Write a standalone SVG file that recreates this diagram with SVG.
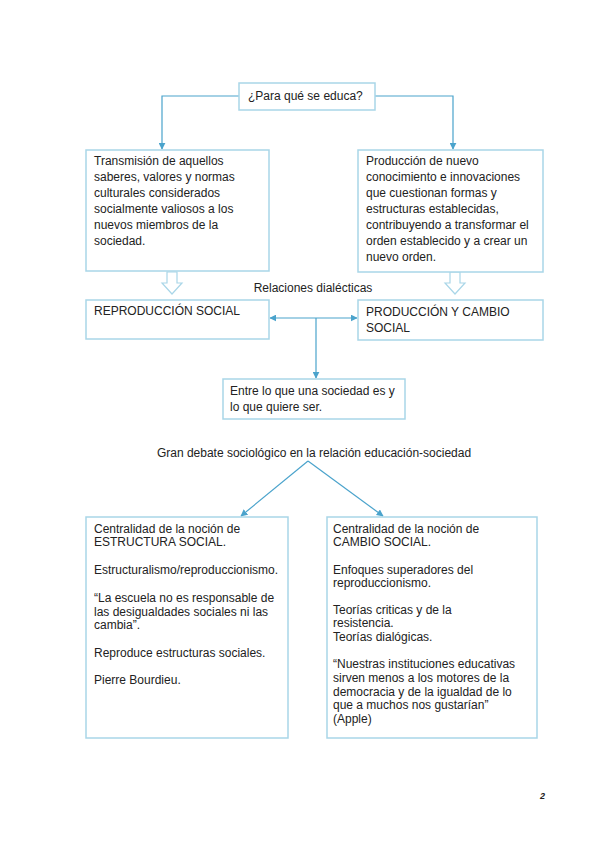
<svg xmlns="http://www.w3.org/2000/svg" width="599" height="848" viewBox="0 0 599 848">
<style>
text{font-family:"Liberation Sans",Arial,sans-serif;font-size:12px;fill:#222}
.box{fill:#fff;stroke:#a9d6e8;stroke-width:1.5}
.con{fill:none;stroke:#4aa3cc;stroke-width:1.2}
.hol{fill:#fff;stroke:#a9d6e8;stroke-width:1.2}
</style>
<defs>
<marker id="ah" viewBox="0 0 10 10" refX="9" refY="5" markerWidth="7" markerHeight="7" orient="auto-start-reverse" markerUnits="userSpaceOnUse">
<path d="M0,0 L10,5 L0,10 z" fill="#4aa3cc"/>
</marker>
</defs>
<rect width="599" height="848" fill="#fff"/>
<g id="connectors">
<polyline class="con" points="239,96 162,96 162,149" marker-end="url(#ah)"/>
<polyline class="con" points="375,96 453,96 453,149" marker-end="url(#ah)"/>
<line class="con" x1="270" y1="318" x2="357" y2="318" marker-start="url(#ah)" marker-end="url(#ah)"/>
<line class="con" x1="316" y1="318" x2="316" y2="378" marker-end="url(#ah)"/>
<line class="con" x1="308" y1="461" x2="241" y2="516" marker-end="url(#ah)"/>
<line class="con" x1="308" y1="461" x2="383" y2="516" marker-end="url(#ah)"/>
<polygon class="hol" points="167,272 177,272 177,283 182,283 172,294 162,283 167,283"/>
<polygon class="hol" points="450,272 460,272 460,283 465,283 455,294 445,283 450,283"/>
</g>
<g id="n-question">
<rect class="box" x="239" y="83" width="136" height="27"/>
<text x="248" y="100">¿Para qué se educa?</text>
</g>
<g id="n-transmision">
<rect class="box" x="86" y="150" width="183" height="121"/>
<text x="94" y="165">Transmisión de aquellos</text>
<text x="94" y="181">saberes, valores y normas</text>
<text x="94" y="197">culturales considerados</text>
<text x="94" y="213">socialmente valiosos a los</text>
<text x="94" y="229">nuevos miembros de la</text>
<text x="94" y="245">sociedad.</text>
</g>
<g id="n-produccion">
<rect class="box" x="358" y="150" width="185" height="122"/>
<text x="366" y="165">Producción de nuevo</text>
<text x="366" y="181">conocimiento e innovaciones</text>
<text x="366" y="197">que cuestionan formas y</text>
<text x="366" y="213">estructuras establecidas,</text>
<text x="366" y="229">contribuyendo a transformar el</text>
<text x="366" y="245">orden establecido y a crear un</text>
<text x="366" y="261">nuevo orden.</text>
</g>
<g id="n-relaciones">
<text x="313" y="292" text-anchor="middle">Relaciones dialécticas</text>
</g>
<g id="n-reproduccion">
<rect class="box" x="86" y="300" width="183" height="39"/>
<text x="94" y="315">REPRODUCCIÓN SOCIAL</text>
</g>
<g id="n-cambio">
<rect class="box" x="358" y="300" width="185" height="40"/>
<text x="366" y="316">PRODUCCIÓN Y CAMBIO</text>
<text x="366" y="332">SOCIAL</text>
</g>
<g id="n-entre">
<rect class="box" x="223" y="379" width="182" height="40"/>
<text x="230" y="395">Entre lo que una sociedad es y</text>
<text x="230" y="411">lo que quiere ser.</text>
</g>
<g id="n-debate">
<text x="314" y="457" text-anchor="middle">Gran debate sociológico en la relación educación-sociedad</text>
</g>
<g id="n-estructura">
<rect class="box" x="86" y="517" width="202" height="221"/>
<text x="94" y="533">Centralidad de la noción de</text>
<text x="94" y="546">ESTRUCTURA SOCIAL.</text>
<text x="94" y="574">Estructuralismo/reproduccionismo.</text>
<text x="94" y="602">“La escuela no es responsable de</text>
<text x="94" y="616">las desigualdades sociales ni las</text>
<text x="94" y="629">cambia”.</text>
<text x="94" y="657">Reproduce estructuras sociales.</text>
<text x="94" y="684">Pierre Bourdieu.</text>
</g>
<g id="n-cambiosocial">
<rect class="box" x="327" y="517" width="210" height="221"/>
<text x="333" y="533">Centralidad de la noción de</text>
<text x="333" y="546">CAMBIO SOCIAL.</text>
<text x="333" y="574">Enfoques superadores del</text>
<text x="333" y="587">reproduccionismo.</text>
<text x="333" y="614">Teorías criticas y de la</text>
<text x="333" y="627">resistencia.</text>
<text x="333" y="641">Teorías dialógicas.</text>
<text x="333" y="668">“Nuestras instituciones educativas</text>
<text x="333" y="682">sirven menos a los motores de la</text>
<text x="333" y="696">democracia y de la igualdad de lo</text>
<text x="333" y="709">que a muchos nos gustarían”</text>
<text x="333" y="723">(Apple)</text>
</g>
<g id="page">
<text x="540" y="799" style="font-size:9px;font-weight:bold;font-style:italic">2</text>
</g>
</svg>
